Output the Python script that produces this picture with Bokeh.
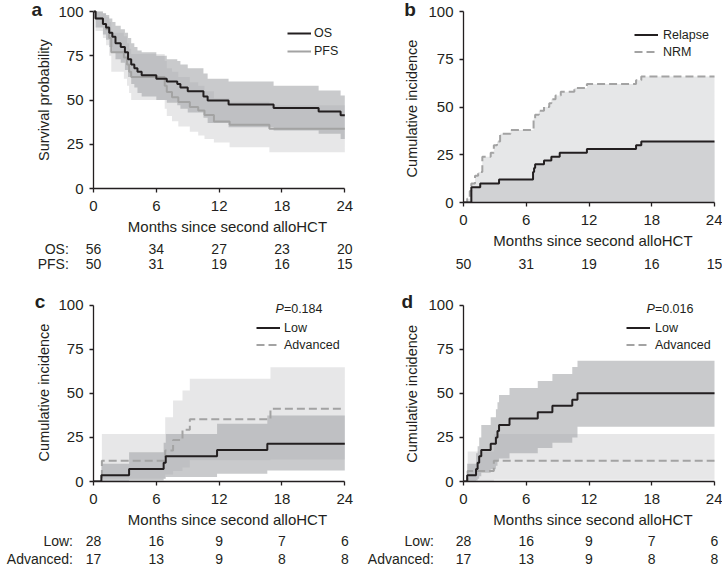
import math
from bokeh.plotting import figure
from bokeh.models import Range1d, Label, Legend, LegendItem, FixedTicker
from bokeh.layouts import column, row
from bokeh.core.properties import value
from bokeh.embed import file_html
from bokeh.resources import INLINE

# ---------------- data ----------------
x_ticks = [0, 6, 12, 18, 24]
y_ticks = [0, 25, 50, 75, 100]
risk_times = [0, 6, 12, 18, 24]

# panel a : OS / PFS (Kaplan-Meier, %)
os_t  = [0, 0.2, 0.9, 1.2, 1.5, 1.8, 2.1, 2.6, 3.0, 3.3, 3.6, 3.9, 4.2, 4.6, 6.0, 7.0, 8.0, 8.3, 9.0, 10.5, 10.9, 12.9, 17.2, 21.5, 23.6]
os_s  = [100, 96, 93, 91, 88, 85.7, 82, 80, 77, 73, 70, 68, 66, 64, 62, 60.5, 59, 57, 55, 52, 49.7, 47.5, 45.5, 43.5, 41.4]
os_hi = [100, 100, 99, 98, 96, 94, 92, 90, 88, 85, 82, 80, 78, 77, 75, 73, 72, 70, 68, 65, 62, 60.5, 58, 55.4, 52.5]
os_lo = [100, 91, 87, 84, 80, 77, 73, 71, 67, 63, 59, 57, 54, 52, 50, 48.5, 47, 45, 43, 40, 37, 34.6, 32.8, 30.9, 28]

pfs_t  = [0, 0.2, 0.9, 1.2, 1.5, 1.7, 2.9, 3.2, 3.4, 3.6, 6.8, 7.0, 7.5, 8.1, 9.2, 10.0, 10.6, 11.5, 13.0, 16.8]
pfs_s  = [100, 96, 93, 90, 85, 77, 74, 70, 66, 63, 58, 54.5, 51.6, 48.8, 46, 44, 41.5, 37.8, 36, 33.8]
pfs_hi = [100, 100, 99, 97, 94, 88, 86, 82, 79, 76, 72, 68, 66, 63, 60, 58, 55, 51, 49, 47]
pfs_lo = [100, 89, 85, 81, 75, 66, 62, 58, 54, 50, 45, 41, 38, 35, 32, 30, 28, 26, 23.3, 20.5]

risk_os  = [56, 34, 27, 23, 20]
risk_pfs = [50, 31, 19, 16, 15]

# panel b : cumulative incidence of relapse, and relapse + NRM (stacked)
rel_t = [0, 0.75, 1.6, 3.4, 6.65, 6.75, 6.85, 7.7, 8.4, 9.2, 11.8, 16.5, 17.0]
rel_v = [0, 8, 10, 12, 16, 18, 20, 22, 24, 26, 28, 30, 32]
nrm_t = [0, 0.35, 0.6, 0.75, 1.1, 1.4, 1.8, 2.6, 2.9, 3.2, 3.5, 4.5, 6.7, 6.85, 7.2, 7.7, 8.2, 8.4, 8.8, 9.3, 10.6, 11.8, 16.5, 17.0]
nrm_v = [0, 2, 6, 10, 14, 16, 24, 26, 30, 32, 36, 38, 44, 46, 48, 50, 52, 54, 56, 58, 60, 62, 64, 66]
risk_b = [50, 31, 19, 16, 15]

# panel c : relapse by risk group
c_low_t  = [0, 0.75, 3.4, 6.7, 6.9, 11.8, 16.6]
c_low_v  = [0, 3.6, 7.1, 10.7, 14.3, 17.9, 21.4]
c_low_hi = [0, 10, 16.6, 22, 27, 32.7, 37.4]
c_low_lo = [0, 0, 0.5, 1.5, 2.5, 4.4, 6.2]
c_adv_t  = [0, 0.8, 6.85, 7.6, 8.5, 9.2, 16.9]
c_adv_v  = [0, 11.8, 17.6, 23.5, 29.4, 35.3, 41.2]
c_adv_hi = [0, 27, 36.5, 46, 51.6, 58.3, 64.8]
c_adv_lo = [0, 1.5, 4, 6, 8, 12, 12.5]
p_c = "0.184"

# panel d : NRM by risk group
d_low_t  = [0, 0.35, 1.2, 1.35, 1.5, 1.7, 2.6, 3.1, 3.25, 3.4, 4.4, 7.1, 8.5, 10.4, 10.9]
d_low_v  = [0, 3.6, 7.1, 10.7, 14.3, 17.9, 21.4, 25, 28.6, 32.1, 35.7, 39.3, 42.9, 46.4, 50]
d_low_hi = [0, 10, 16, 20, 25, 32, 36.5, 41, 45, 49, 53, 57, 61, 65, 68.5]
d_low_lo = [0, 0, 0.5, 1.5, 3, 5, 7, 9, 11.5, 13, 16, 19, 22, 25, 31]
d_adv_t  = [0, 0.4, 2.9]
d_adv_v  = [0, 5.9, 11.8]
d_adv_hi = [0, 17, 27]
d_adv_lo = [0, 0, 1]
p_d = "0.016"

risk_low = [28, 16, 9, 7, 6]
risk_adv = [17, 13, 9, 8, 8]

# ---------------- style ----------------
FONT = "Liberation Sans"
INK = "#231f20"
GRAY_LINE = "#a3a3a3"
LIGHT = "#cfd0d2"
DARK = "#a5a7aa"
X_MAX = x_ticks[-1]
Y_MAX = y_ticks[-1]
TICK_FS = "15px"
XTITLE_FS = "15px"
YTITLE_FS = "14.5px"
RISK_FS = "14px"
LEG_FS = "12.5px"
LETTER_FS = "19px"
DASH = "8 4"

# panel geometry in page pixels (x0, y0 = panel origin; ax_* = where the axes sit)
GEOM = {
    "a": dict(x0=0, y0=0, w=361, h=282, strip_w=53, top_h=239, ax_left=93, ax_x24=344.3, ax_y100=11, ax_y0=188),
    "b": dict(x0=361, y0=0, w=361, h=282, strip_w=60, top_h=253, ax_left=463, ax_x24=714, ax_y100=11, ax_y0=202),
    "c": dict(x0=0, y0=282, w=361, h=283, strip_w=53, top_h=248, ax_left=93, ax_x24=344.3, ax_y100=304.7, ax_y0=481),
    "d": dict(x0=361, y0=282, w=361, h=283, strip_w=60, top_h=248, ax_left=463, ax_x24=714, ax_y100=304.7, ax_y0=481),
}


def steps(t, v):
    xs, ys = [], []
    for i in range(len(t)):
        x1 = t[i + 1] if i + 1 < len(t) else X_MAX
        xs += [t[i], x1]
        ys += [v[i], v[i]]
    return xs, ys


def bare_fig(w, h, xr, yr, bottom=0):
    p = figure(width=w, height=h, x_range=xr, y_range=yr, x_axis_type=None, y_axis_type=None,
               min_border_left=0, min_border_right=0, min_border_top=0, min_border_bottom=bottom,
               output_backend="svg", toolbar_location=None, tools="")
    p.outline_line_color = None
    p.background_fill_color = "white"
    p.border_fill_color = "white"
    return p


def put_text(p, xs, ys, texts, size, align="left", baseline="middle", style="normal", angle=0.0):
    p.text(x=xs, y=ys, text=texts, text_font=value(FONT), text_font_size=value(size),
           text_font_style=style, text_align=align, text_baseline=baseline, text_color=INK, angle=angle)


class Panel:
    def __init__(self, key, ylabel, letter):
        g = GEOM[key]
        self.g = g
        self.ppm = (g["ax_x24"] - g["ax_left"]) / X_MAX
        main_x0 = g["x0"] + g["strip_w"]
        main_w = g["w"] - g["strip_w"]
        fb = g["ax_y0"] - g["y0"]                      # frame bottom (local px)
        ppu = (g["ax_y0"] - g["ax_y100"]) / Y_MAX
        x_end = (g["x0"] + g["w"] - g["ax_left"]) / self.ppm
        y_end = fb / ppu
        bottom = g["top_h"] - fb
        p = figure(width=main_w, height=g["top_h"], x_range=Range1d(0, x_end), y_range=Range1d(0, y_end),
                   min_border_left=g["ax_left"] - main_x0, min_border_right=0, min_border_top=0,
                   min_border_bottom=bottom, output_backend="svg", toolbar_location=None, tools="")
        p.outline_line_color = None
        p.grid.visible = False
        p.background_fill_color = "white"
        p.border_fill_color = "white"
        for ax in (p.xaxis[0], p.yaxis[0]):
            ax.axis_line_color = INK
            ax.axis_line_width = 1.3
            ax.major_tick_line_color = INK
            ax.major_tick_line_width = 1.3
            ax.major_tick_out = 4
            ax.major_tick_in = 0
            ax.minor_tick_line_color = None
            ax.major_label_text_font = FONT
            ax.major_label_text_font_size = TICK_FS
            ax.major_label_text_color = INK
            ax.axis_label_text_font = FONT
            ax.axis_label_text_font_style = "normal"
            ax.axis_label_text_color = INK
        p.xaxis.ticker = FixedTicker(ticks=x_ticks)
        p.yaxis.ticker = FixedTicker(ticks=y_ticks)
        p.xaxis.bounds = (0, X_MAX)
        p.yaxis.bounds = (0, Y_MAX)
        p.xaxis.axis_label = "Months since second alloHCT"
        p.xaxis.axis_label_text_font_size = XTITLE_FS
        p.xaxis.major_label_standoff = 8
        p.yaxis.major_label_standoff = 6
        p.xaxis.axis_label_standoff = 4
        self.main = p

        # left strip: panel letter + y-axis title (local px, y downwards)
        s = bare_fig(g["strip_w"], g["top_h"], Range1d(0, g["strip_w"]), Range1d(fb, 0), bottom=bottom)
        lx, ly = letter
        put_text(s, [lx - g["x0"]], [ly - g["y0"]], [key], LETTER_FS, style="bold")
        tx, ty, ttxt = ylabel
        put_text(s, [tx - g["x0"]], [ty - g["y0"]], [ttxt], YTITLE_FS, align="center", angle=math.pi / 2)
        self.strip = s

        # number-at-risk table (x in months, y in local px)
        rh = g["h"] - g["top_h"]
        r = bare_fig(g["w"], rh,
                     Range1d((g["x0"] - g["ax_left"]) / self.ppm, (g["x0"] + g["w"] - g["ax_left"]) / self.ppm),
                     Range1d(rh, 0))
        self.risk = r

    def month_at(self, px):
        return (px - self.g["ax_left"]) / self.ppm

    def risk_row(self, py, values, name=None, name_px=None):
        y = py - self.g["y0"] - self.g["top_h"]
        put_text(self.risk, risk_times, [y] * len(values), [str(n) for n in values], RISK_FS, align="center")
        if name:
            put_text(self.risk, [self.month_at(name_px)], [y], [name], RISK_FS, align="right")

    def legend(self, items, glyph_px, row1, row2, standoff=4):
        pitch = row2 - row1
        bottom = row2 + pitch / 2
        loc = (int(round(glyph_px - self.g["ax_left"])), int(round(self.g["ax_y0"] - bottom)))
        leg = Legend(items=[LegendItem(label=l, renderers=[rr]) for l, rr in items],
                     location=loc, padding=0, margin=0, spacing=0, glyph_width=24,
                     glyph_height=int(round(pitch)), label_height=int(round(pitch)),
                     label_standoff=standoff, label_text_font=FONT, label_text_font_size=LEG_FS,
                     label_text_color=INK, border_line_color=None, background_fill_alpha=0)
        self.main.add_layout(leg)

    def pvalue(self, px, py, pv):
        g = self.g
        ppu = (g["ax_y0"] - g["ax_y100"]) / Y_MAX
        y = (g["ax_y0"] - py) / ppu
        self.main.add_layout(Label(x=self.month_at(px), y=y, text="P", text_font=FONT, text_font_size=LEG_FS,
                                   text_font_style="italic", text_baseline="middle", text_color=INK))
        self.main.add_layout(Label(x=self.month_at(px + 8.4), y=y, text="=" + pv, text_font=FONT,
                                   text_font_size=LEG_FS, text_baseline="middle", text_color=INK))

    def layout(self):
        return column(row(self.strip, self.main), self.risk)


def band(p, t, lo, hi, color, alpha):
    xs, ylo = steps(t, lo)
    _, yhi = steps(t, hi)
    p.varea(x=xs, y1=ylo, y2=yhi, fill_color=color, fill_alpha=alpha)


def curve(p, t, v, color, dash="solid"):
    xs, ys = steps(t, v)
    return p.line(xs, ys, line_color=color, line_width=2, line_dash=dash)


# ---------------- panel a ----------------
A = Panel("a", (43.7, 99.7, "Survival probability"), (31, 8.5))
band(A.main, pfs_t, pfs_lo, pfs_hi, LIGHT, 0.5)
band(A.main, os_t, os_lo, os_hi, DARK, 0.6)
r_pfs = curve(A.main, pfs_t, pfs_s, GRAY_LINE)
r_os = curve(A.main, os_t, os_s, INK)
A.legend([("OS", r_os), ("PFS", r_pfs)], 287, 34, 51.5, standoff=3)
A.risk_row(248.3, risk_os, "OS:", 68.3)
A.risk_row(263.5, risk_pfs, "PFS:", 68.3)

# ---------------- panel b ----------------
B = Panel("b", (411.8, 108, "Cumulative incidence"), (403.7, 8.5))
xs_n, ys_n = steps(nrm_t, nrm_v)
B.main.varea(x=xs_n, y1=[0] * len(xs_n), y2=ys_n, fill_color="#e6e7e8")
xs_r, ys_r = steps(rel_t, rel_v)
B.main.varea(x=xs_r, y1=[0] * len(xs_r), y2=ys_r, fill_color="#d1d2d4")
r_nrm = curve(B.main, nrm_t, nrm_v, GRAY_LINE, DASH)
r_rel = curve(B.main, rel_t, rel_v, INK)
B.legend([("Relapse", r_rel), ("NRM", r_nrm)], 634, 35, 52, standoff=5)
B.risk_row(263, risk_b)

# ---------------- panel c ----------------
C = Panel("c", (43.7, 392, "Cumulative incidence"), (34.3, 300.5))
band(C.main, c_adv_t, c_adv_lo, c_adv_hi, LIGHT, 0.5)
band(C.main, c_low_t, c_low_lo, c_low_hi, DARK, 0.6)
r_cadv = curve(C.main, c_adv_t, c_adv_v, GRAY_LINE, DASH)
r_clow = curve(C.main, c_low_t, c_low_v, INK)
C.legend([("Low", r_clow), ("Advanced", r_cadv)], 256, 327.7, 344.3, standoff=4)
C.pvalue(275, 308.7, p_c)
C.risk_row(540, risk_low, "Low:", 72.5)
C.risk_row(558, risk_adv, "Advanced:", 72.5)

# ---------------- panel d ----------------
D = Panel("d", (411.8, 393.3, "Cumulative incidence"), (401, 300.5))
band(D.main, d_adv_t, d_adv_lo, d_adv_hi, LIGHT, 0.5)
band(D.main, d_low_t, d_low_lo, d_low_hi, DARK, 0.6)
r_dadv = curve(D.main, d_adv_t, d_adv_v, GRAY_LINE, DASH)
r_dlow = curve(D.main, d_low_t, d_low_v, INK)
D.legend([("Low", r_dlow), ("Advanced", r_dadv)], 626, 327.7, 344.3, standoff=5)
D.pvalue(646, 308.7, p_d)
D.risk_row(540, risk_low, "Low:", 433.5)
D.risk_row(558, risk_adv, "Advanced:", 433.5)

page = row(column(A.layout(), C.layout()), column(B.layout(), D.layout()))
open("out.html", "w").write(file_html(page, INLINE))
